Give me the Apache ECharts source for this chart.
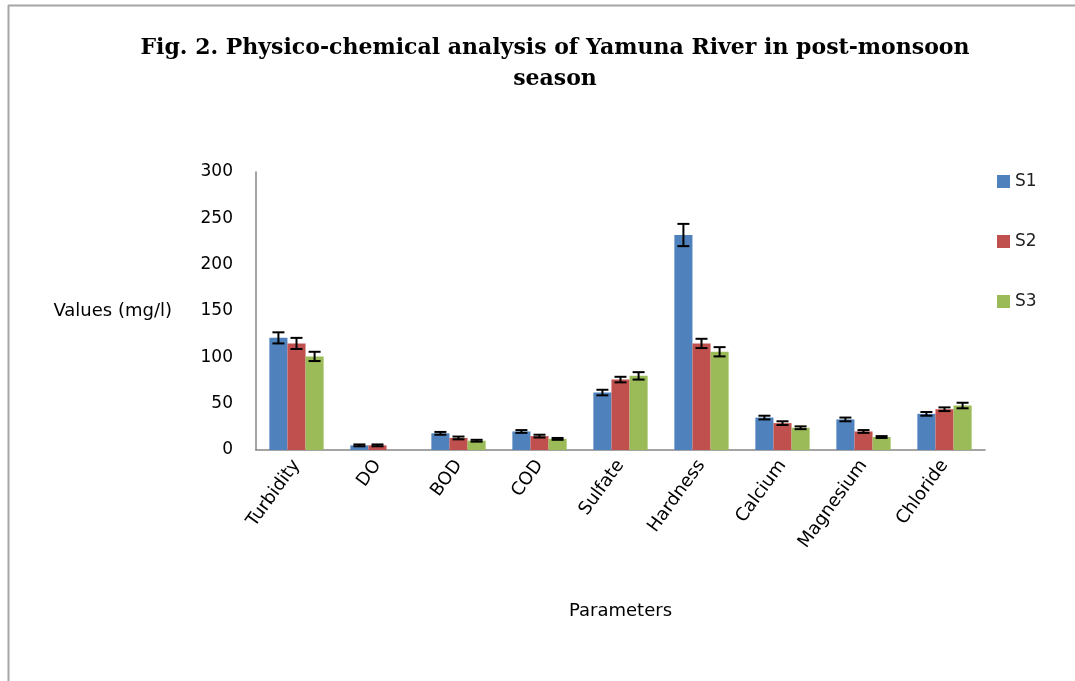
<!DOCTYPE html>
<html>
<head>
<meta charset="utf-8">
<script src="https://cdn.jsdelivr.net/npm/echarts@6/dist/echarts.min.js"></script>
<style>
html, body { margin: 0; padding: 0; background: #fff; }
#chart { width: 1075px; height: 681px; }
</style>
</head>
<body>
<div id="chart"></div>
<script>
var categories = ['Turbidity', 'DO', 'BOD', 'COD', 'Sulfate', 'Hardness', 'Calcium', 'Magnesium', 'Chloride'];
var s1 = [121, 5, 18, 20, 62, 232, 35, 33, 39];
var s2 = [115, 5, 13, 15, 76, 115, 29, 20, 44];
var s3 = [101, 0, 10, 12, 80, 106, 24, 14, 48];
var s1_err = [6, 1, 1.5, 1.5, 3, 12, 2, 2, 2];
var s2_err = [6, 1, 1.5, 1.5, 3, 5, 2, 1.5, 2];
var s3_err = [5, 0, 1, 1, 4, 5, 1.5, 1, 3];
var series_names = ['S1', 'S2', 'S3'];
var colors = ['#4F81BD', '#C0504D', '#9BBB59'];
var gap_ratio = 0.33;
var label_font = 'DejaVu Sans';

var myChart = echarts.init(document.getElementById('chart'));

function err_series ( idx, vals, errs ) {
	var data = [];
	for ( var i = 0; i < vals.length; i ++ ) {
		data.push( [ i, vals[i], errs[i] ] );
	}
	return {
		type: 'custom',
		name: series_names[idx] + '_err',
		z: 10,
		silent: true,
		data: data,
		renderItem: function ( params, api ) {
			var e = api.value(2);
			if ( e <= 0 ) return;
			var band = api.size( [1, 0] )[0];
			var bw = band * ( 1 - gap_ratio ) / 3;
			var c = api.coord( [ api.value(0), api.value(1) ] );
			var x = c[0] + ( idx - 1 ) * bw;
			var top = api.coord( [ api.value(0), api.value(1) + e ] )[1];
			var bot = api.coord( [ api.value(0), api.value(1) - e ] )[1];
			var hw = 6;
			var st = { stroke: '#000', lineWidth: 2 };
			return {
				type: 'group',
				children: [
					{ type: 'line', shape: { x1: x, y1: top, x2: x, y2: bot }, style: st },
					{ type: 'line', shape: { x1: x - hw, y1: top, x2: x + hw, y2: top }, style: st },
					{ type: 'line', shape: { x1: x - hw, y1: bot, x2: x + hw, y2: bot }, style: st }
				]
			};
		}
	};
}

var option = {
	animation: false,
	backgroundColor: '#fff',
	title: {
		text: 'Fig. 2. Physico-chemical analysis of Yamuna River in post-monsoon\nseason',
		left: 550,
		textAlign: 'center',
		top: 28,
		textStyle: {
			fontFamily: 'DejaVu Serif',
			fontWeight: 'bold',
			fontSize: 22,
			lineHeight: 31,
			color: '#000'
		}
	},
	graphic: [
		{ type: 'line', shape: { x1: 8, y1: 5.5, x2: 1075, y2: 5.5 }, style: { stroke: '#a6a6a6', lineWidth: 2 } },
		{ type: 'line', shape: { x1: 8.5, y1: 5, x2: 8.5, y2: 681 }, style: { stroke: '#a6a6a6', lineWidth: 2 } }
	],
	legend: {
		orient: 'vertical',
		left: 992,
		top: 168,
		itemWidth: 13,
		itemHeight: 13,
		itemGap: 43,
		icon: 'rect',
		data: series_names,
		textStyle: { fontFamily: label_font, fontSize: 17, color: '#222' }
	},
	grid: {
		left: 256,
		right: 90,
		top: 172,
		bottom: 231
	},
	xAxis: {
		type: 'category',
		data: categories,
		name: 'Parameters',
		nameLocation: 'middle',
		nameGap: 152,
		nameTextStyle: { fontFamily: label_font, fontSize: 18, color: '#000' },
		axisLine: { lineStyle: { color: '#868686', width: 1.5 } },
		axisTick: { show: false },
		axisLabel: {
			rotate: 54,
			interval: 0,
			margin: 12,
			fontFamily: label_font,
			fontSize: 18,
			color: '#000'
		}
	},
	yAxis: {
		type: 'value',
		min: 0,
		max: 300,
		interval: 50,
		name: 'Values (mg/l)',
		nameLocation: 'middle',
		nameRotate: 0,
		nameGap: 84,
		nameTextStyle: { fontFamily: label_font, fontSize: 18, color: '#000', align: 'right' },
		axisLine: { show: true, lineStyle: { color: '#868686', width: 1.5 } },
		axisTick: { show: false },
		splitLine: { show: false },
		axisLabel: {
			margin: 23,
			fontFamily: label_font,
			fontSize: 17,
			color: '#000'
		}
	},
	series: [
		{ name: 'S1', type: 'bar', data: s1, barGap: '0%', barCategoryGap: '33%', itemStyle: { color: colors[0] } },
		{ name: 'S2', type: 'bar', data: s2, barGap: '0%', barCategoryGap: '33%', itemStyle: { color: colors[1] } },
		{ name: 'S3', type: 'bar', data: s3, barGap: '0%', barCategoryGap: '33%', itemStyle: { color: colors[2] } },
		err_series( 0, s1, s1_err ),
		err_series( 1, s2, s2_err ),
		err_series( 2, s3, s3_err )
	]
};
myChart.setOption(option);
</script>
</body>
</html>
